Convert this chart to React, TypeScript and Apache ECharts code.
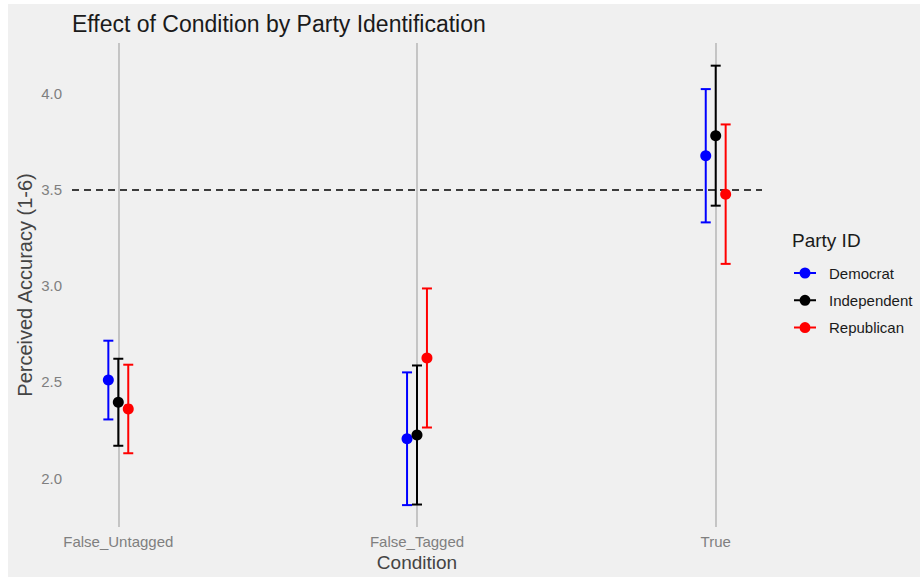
import React, { useEffect, useRef } from "react";
import * as echarts from "echarts";

const conditions = ["False_Untagged", "False_Tagged", "True"];
const parties = ["Democrat", "Independent", "Republican"];
const partyColors = ["#0000ff", "#000000", "#ff0000"];

const demMean = [2.51, 2.205, 3.678];
const demLow = [2.305, 1.859, 3.331];
const demHigh = [2.715, 2.55, 4.025];

const indMean = [2.395, 2.224, 3.782];
const indLow = [2.168, 1.862, 3.418];
const indHigh = [2.621, 2.586, 4.147];

const repMean = [2.36, 2.625, 3.478];
const repLow = [2.129, 2.263, 3.115];
const repHigh = [2.59, 2.987, 3.841];

const yTicks = [2.0, 2.5, 3.0, 3.5, 4.0];
const referenceLine = 3.5;

const FONT = "'Liberation Sans', Arial, Helvetica, sans-serif";
const dodge = [-1 / 30, 0, 1 / 30];

const legendIcon =
  "path://M0,4.5H5.6V6.5H0Z M16.4,4.5H22V6.5H16.4Z M5.5,5.5A5.5,5.5 0 1 1 16.5,5.5A5.5,5.5 0 1 1 5.5,5.5Z";

function buildData(mean: number[], low: number[], high: number[], off: number) {
  return conditions.map((_, i) => [i + 1 + off, mean[i], low[i], high[i]]);
}

export default function App() {
  const ref = useRef<HTMLDivElement>(null);

  useEffect(() => {
    if (!ref.current) return;
    const chart = echarts.init(ref.current, null, { renderer: "svg" });
    const groups = [
      [demMean, demLow, demHigh],
      [indMean, indLow, indHigh],
      [repMean, repLow, repHigh],
    ];

    const errSeries = parties.map((name, pi) => {
      const color = partyColors[pi];
      return {
        name,
        type: "custom",
        z: 10,
        itemStyle: { color },
        encode: { x: 0, y: [1, 2, 3] },
        data: buildData(groups[pi][0], groups[pi][1], groups[pi][2], dodge[pi]),
        renderItem: (params: any, api: any) => {
          const x = api.value(0);
          const pm = api.coord([x, api.value(1)]);
          const pl = api.coord([x, api.value(2)]);
          const ph = api.coord([x, api.value(3)]);
          const cap = 5;
          const ls = { stroke: color, lineWidth: 2 };
          return {
            type: "group",
            children: [
              { type: "line", shape: { x1: pl[0], y1: pl[1], x2: ph[0], y2: ph[1] }, style: ls },
              { type: "line", shape: { x1: pl[0] - cap, y1: pl[1], x2: pl[0] + cap, y2: pl[1] }, style: ls },
              { type: "line", shape: { x1: ph[0] - cap, y1: ph[1], x2: ph[0] + cap, y2: ph[1] }, style: ls },
              { type: "circle", shape: { cx: pm[0], cy: pm[1], r: 5.5 }, style: { fill: color } },
            ],
          };
        },
      };
    });

    const option: any = {
      animation: false,
      backgroundColor: "#f0f0f0",
      textStyle: { fontFamily: FONT },
      title: {
        text: "Effect of Condition by Party Identification",
        left: 64,
        top: 8,
        padding: 0,
        textStyle: { fontFamily: FONT, fontSize: 23, fontWeight: "normal", color: "#1a1a1a" },
      },
      grid: { left: 64, right: 158, top: 39, bottom: 50, containLabel: false, outerBoundsMode: "none" },
      xAxis: {
        type: "value",
        min: 0.845,
        max: 3.155,
        name: "Condition",
        nameLocation: "middle",
        nameGap: 26,
        nameMoveOverlap: false,
        nameTextStyle: { fontFamily: FONT, fontSize: 19, color: "#444444" },
        axisLine: { show: false },
        axisTick: { show: false },
        splitLine: { show: false },
        axisLabel: {
          customValues: [1, 2, 3],
          formatter: (v: number) => conditions[Math.round(v) - 1] ?? "",
          fontFamily: FONT,
          fontSize: 15,
          color: "#7f7f7f",
          margin: 7,
        },
      },
      yAxis: {
        type: "value",
        min: 1.745,
        max: 4.265,
        name: "Perceived Accuracy (1-6)",
        nameLocation: "middle",
        nameGap: 37,
        nameMoveOverlap: false,
        nameTextStyle: { fontFamily: FONT, fontSize: 20, color: "#444444" },
        axisLine: { show: false },
        axisTick: { show: false },
        splitLine: { show: false },
        axisLabel: {
          customValues: yTicks,
          formatter: (v: number) => v.toFixed(1),
          fontFamily: FONT,
          fontSize: 15,
          color: "#7f7f7f",
          margin: 10,
        },
      },
      legend: {
        orient: "vertical",
        left: 786,
        top: 261,
        padding: 0,
        itemWidth: 22,
        itemHeight: 11,
        itemGap: 11.3,
        selectedMode: false,
        icon: legendIcon,
        data: parties,
        textStyle: { fontFamily: FONT, fontSize: 15, color: "#1a1a1a", lineHeight: 16, padding: [0, 0, 0, 8] },
      },
      graphic: [
        {
          type: "text",
          left: 784,
          top: 227,
          style: { text: "Party ID", fontFamily: FONT, fontSize: 19, fill: "#1a1a1a" },
        },
      ],
      series: [
        {
          type: "line",
          data: [],
          z: 1,
          silent: true,
          markLine: {
            z: 1,
            silent: true,
            symbol: ["none", "none"],
            label: { show: false },
            emphasis: { disabled: true },
            data: [
              ...conditions.map((_, i) => ({
                xAxis: i + 1,
                lineStyle: { color: "#bdbdbd", width: 1.7, type: "solid" },
              })),
              {
                yAxis: referenceLine,
                lineStyle: { color: "#000000", width: 1.5, type: [7, 5] },
              },
            ],
          },
        },
        ...errSeries,
      ],
    };
    chart.setOption(option);
    return () => chart.dispose();
  }, []);

  return (
    <div style={{ position: "fixed", left: 0, top: 0, width: 922, height: 577, background: "#ffffff" }}>
      <div ref={ref} style={{ position: "absolute", left: 8, top: 4, width: 912, height: 573 }} />
    </div>
  );
}
